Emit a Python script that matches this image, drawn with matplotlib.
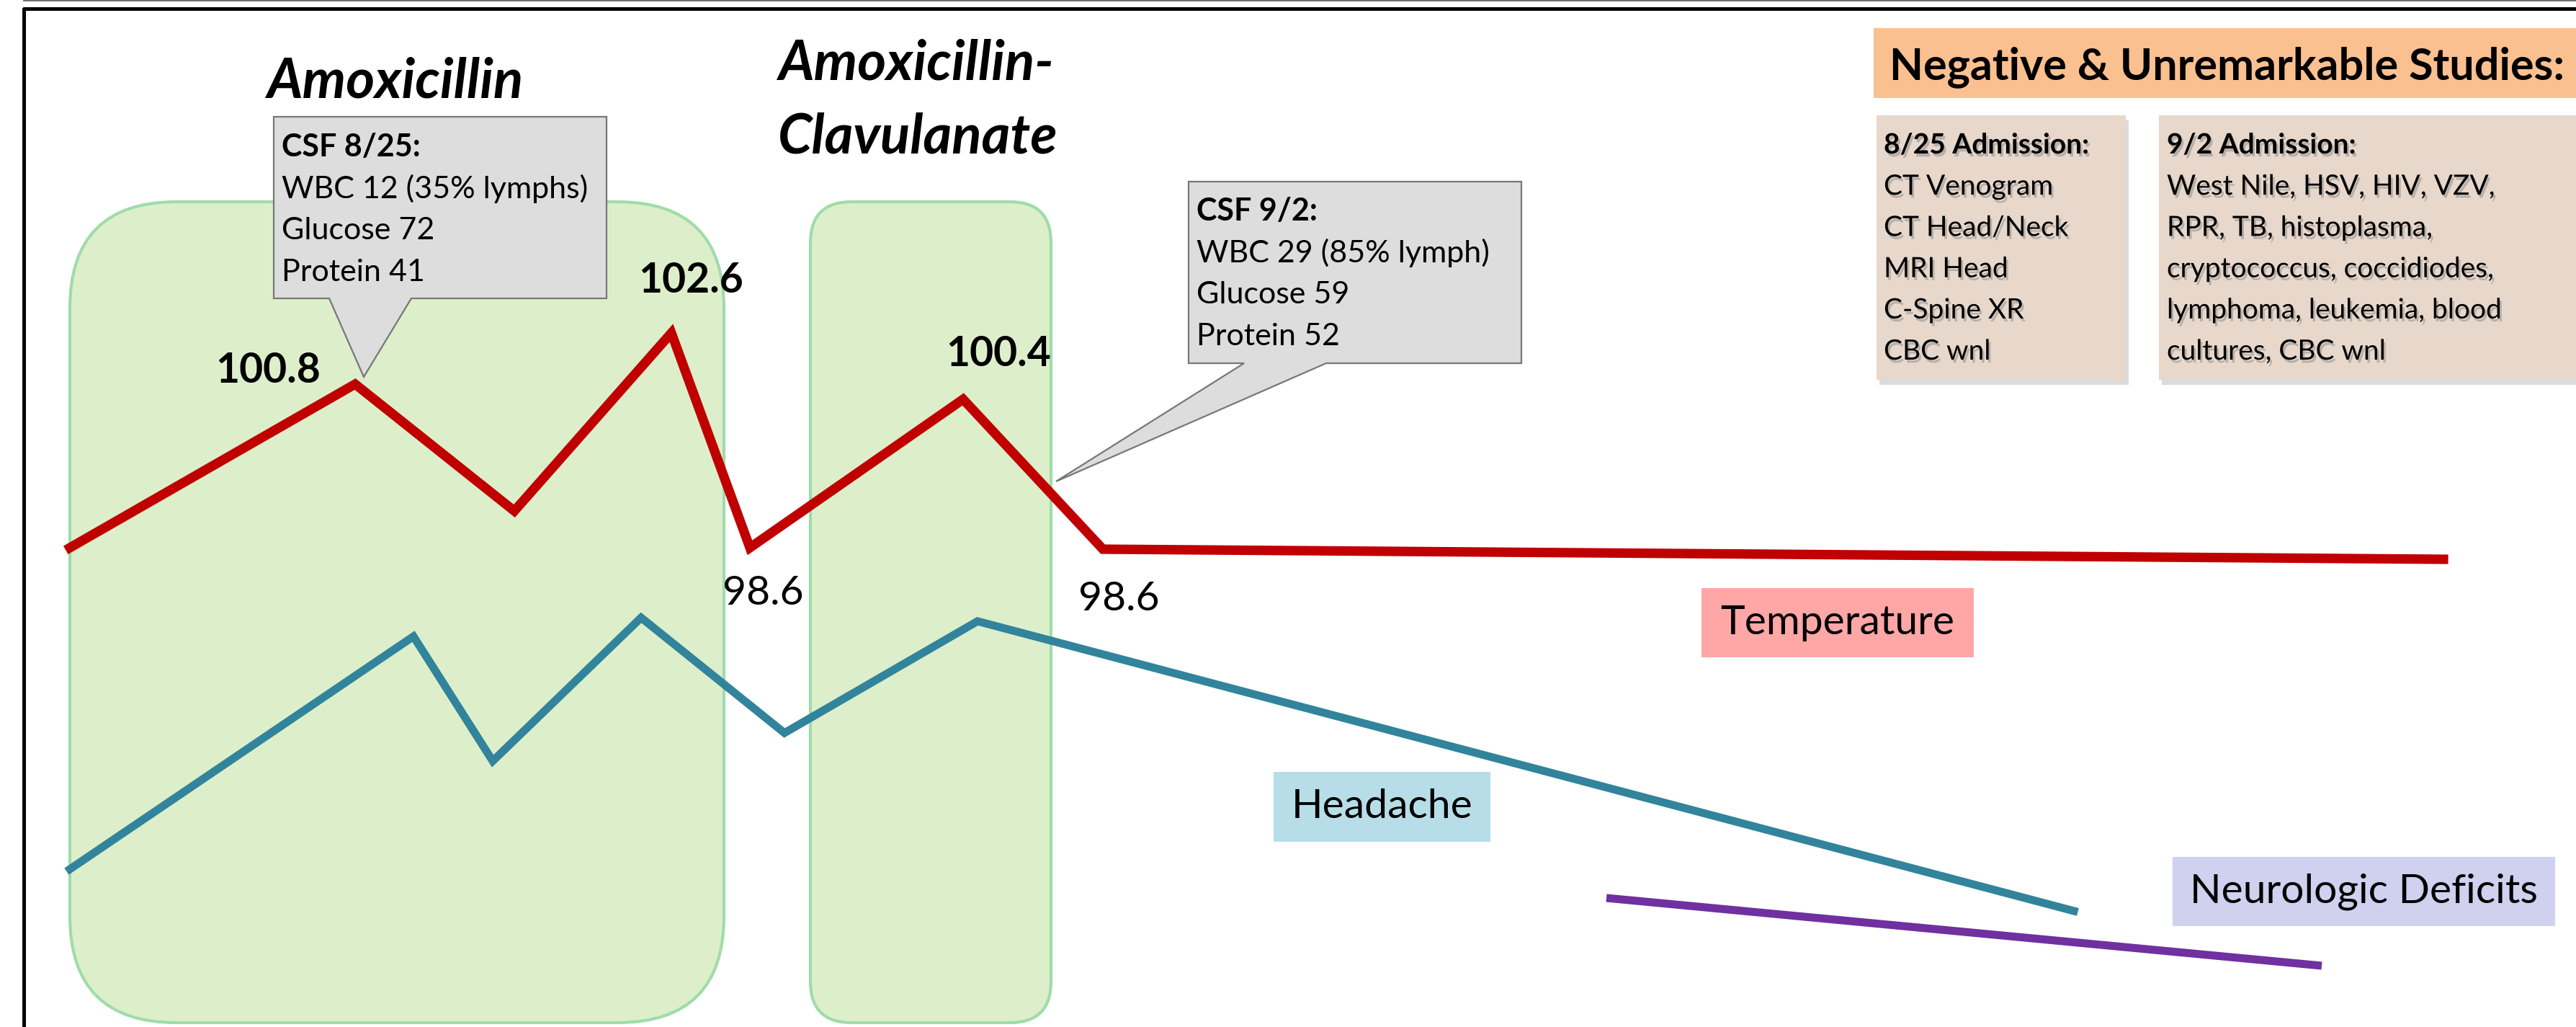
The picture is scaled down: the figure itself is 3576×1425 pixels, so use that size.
import matplotlib
import matplotlib.pyplot as plt
import matplotlib.patheffects as pe
from matplotlib.patches import FancyBboxPatch, Polygon, Rectangle

matplotlib.use('Agg')

# Timeline traces (canvas units = pixels of the 3576x1425 slide)
temp_x = [97, 493, 714, 932, 1041, 1337, 1531, 3392]
temp_y = [760, 533, 709, 462, 760, 554, 762, 776]
headache_x = [97, 574, 684, 890, 1089, 1357, 2879]
headache_y = [1206, 883, 1056, 857, 1017, 862, 1264]
neuro_x = [2230, 3223]
neuro_y = [1246, 1340]

# temperature readings written next to the trace
temp_labels = ['100.8', '102.6', '100.4', '98.6', '98.6']
temp_label_bold = [True, True, True, False, False]

antibiotics = ['Amoxicillin', 'Amoxicillin-\nClavulanate']

csf_1 = ['CSF 8/25:', 'WBC 12 (35% lymphs)', 'Glucose 72', 'Protein 41']
csf_2 = ['CSF 9/2:', 'WBC 29 (85% lymph)', 'Glucose 59', 'Protein 52']

studies_title = 'Negative & Unremarkable Studies:'
studies_825 = ['8/25 Admission:', 'CT Venogram', 'CT Head/Neck', 'MRI Head',
               'C-Spine XR', 'CBC wnl']
studies_92 = ['9/2 Admission:', 'West Nile, HSV, HIV, VZV,', 'RPR, TB, histoplasma,',
              'cryptococcus, coccidiodes,', 'lymphoma, leukemia, blood',
              'cultures, CBC wnl']

series_names = ['Temperature', 'Headache', 'Neurologic Deficits']

RED = '#c00000'
TEAL = '#31849b'
PURPLE = '#7030a0'
FONT = 'Lato'

W, H = 3576, 1425
fig = plt.figure(figsize=(W / 100, H / 100), dpi=100)
ax = fig.add_axes([0, 0, 1, 1])
ax.set_xlim(0, W)
ax.set_ylim(H, 0)
ax.axis('off')

# slide frame (top and left edges only are visible)
ax.plot([32, W], [1, 1], color='#555555', lw=1.2, solid_capstyle='butt')
ax.plot([33, 33, W], [H, 12, 12], color='black', lw=3.6, solid_joinstyle='round')

# antibiotic periods
for (x0, x1, r) in [(97, 1005, 148), (1125, 1459, 57)]:
    ax.add_patch(FancyBboxPatch((x0, 280), x1 - x0, 1419 - 280,
                                boxstyle='round,pad=0,rounding_size=%d' % r,
                                fc='#ddefca', ec='#9fdcaa', lw=3, zorder=1))

ax.text(548, 135, antibiotics[0], fontsize=55, fontweight='bold', fontstyle='italic',
        family=FONT, ha='center', va='baseline')
ax.text(1080, 110, antibiotics[1].split('\n')[0], fontsize=55, fontweight='bold',
        fontstyle='italic', family=FONT, ha='left', va='baseline')
ax.text(1080, 212, antibiotics[1].split('\n')[1], fontsize=55, fontweight='bold',
        fontstyle='italic', family=FONT, ha='left', va='baseline')

# symptom traces
ax.plot(temp_x, temp_y, color=RED, lw=9.5, solid_joinstyle='miter', zorder=4)
ax.plot(headache_x, headache_y, color=TEAL, lw=8, solid_joinstyle='miter', zorder=4)
ax.plot(neuro_x, neuro_y, color=PURPLE, lw=8, solid_capstyle='butt', zorder=4)

label_pos = [(299, 531), (886, 406), (1313, 508), (1003, 839), (1497, 847)]
for txt, bold, (x, y) in zip(temp_labels, temp_label_bold, label_pos):
    ax.text(x, y, txt, fontsize=41, fontweight='bold' if bold else 'normal',
            family=FONT, ha='left', va='baseline', zorder=6)

# CSF callouts
callouts = [
    (csf_1, [(380, 162), (842, 162), (842, 414), (571, 414), (505, 523),
             (457, 414), (380, 414)], 391, 217),
    (csf_2, [(1650, 252), (2112, 252), (2112, 504), (1841, 504), (1466, 668),
             (1727, 504), (1650, 504)], 1661, 306),
]
for lines, verts, tx, ty in callouts:
    ax.add_patch(Polygon(verts, closed=True, fc='#dddddd', ec='#777777', lw=1.6,
                         zorder=5))
    for i, line in enumerate(lines):
        ax.text(tx, ty + 57.5 * i, line, fontsize=31,
                fontweight='bold' if i == 0 else 'normal',
                family=FONT, ha='left', va='baseline', zorder=6)

# series name tags
tags = [((2362, 816, 2740, 912), '#ffa6a6'),
        ((1768, 1071, 2069, 1168), '#b7dee8'),
        ((3016, 1189, 3547, 1285), '#d0d0ef')]
for name, ((x0, y0, x1, y1), col) in zip(series_names, tags):
    ax.add_patch(Rectangle((x0, y0), x1 - x0, y1 - y0, fc=col, ec='none', zorder=3))
    ax.text((x0 + x1) / 2, (y0 + y1) / 2, name, fontsize=41, family=FONT,
            ha='center', va='center', zorder=6)

# negative studies panel
ax.add_patch(Rectangle((2601, 39), W - 2601, 97, fc='#fac090', ec='none', zorder=3))
ax.text(3092, 110, studies_title, fontsize=44, fontweight='bold', family=FONT,
        ha='center', va='baseline', zorder=6)

shadow = [pe.withSimplePatchShadow(offset=(3, -5), shadow_rgbFace='#999999', alpha=0.35)]
text_shadow = [pe.withSimplePatchShadow(offset=(2, -3), shadow_rgbFace='#888888', alpha=0.5)]
for (x0, x1), lines, tx in [((2605, 2951), studies_825, 2615),
                            ((2997, W), studies_92, 3008)]:
    ax.add_patch(Rectangle((x0, 160), x1 - x0, 527 - 160, fc='#e8d8cb', ec='none',
                           zorder=3, path_effects=shadow))
    for i, line in enumerate(lines):
        ax.text(tx, 213 + 57.2 * i, line, fontsize=28,
                fontweight='bold' if i == 0 else 'normal', family=FONT,
                ha='left', va='baseline', zorder=6, path_effects=text_shadow)

fig.savefig('out.png', dpi=100)
